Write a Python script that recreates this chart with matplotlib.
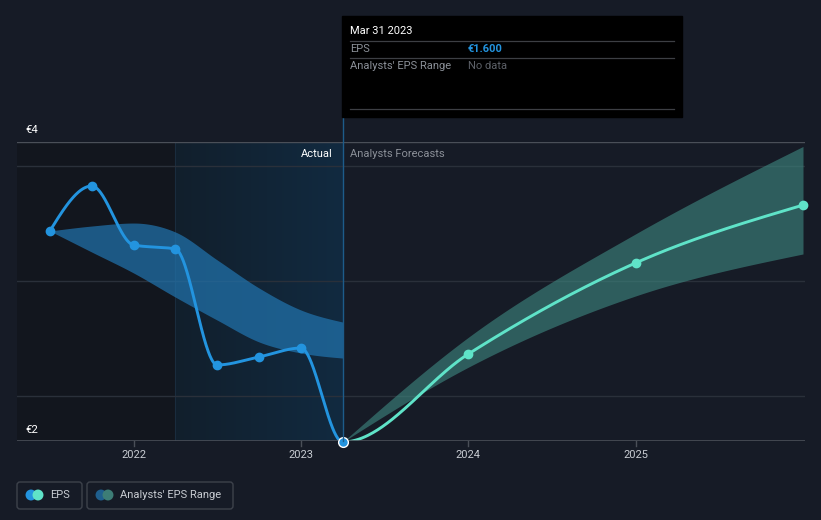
import numpy as np
import matplotlib
matplotlib.use("Agg")
import matplotlib.pyplot as plt
from matplotlib.patches import Rectangle, FancyBboxPatch

plt.rcParams['font.family'] = ['Roboto', 'DejaVu Sans']

# ---------------- data ----------------
eps_dates = [2021.5, 2021.75, 2022.0, 2022.25, 2022.5, 2022.75, 2023.0, 2023.25]
eps_values = [3.435, 3.826, 3.313, 3.278, 2.27, 2.34, 2.417, 1.600]

fc_dates = [2023.25, 2024.0, 2025.0, 2026.0]
fc_values = [1.600, 2.365, 3.157, 3.66]
fc_high = [1.600, 2.51, 3.41, 4.17]
fc_low = [1.600, 2.25, 2.87, 3.235]

hist_band_dates = [2021.5, 2021.75, 2022.0, 2022.25, 2022.5, 2022.75, 2023.0, 2023.25]
hist_band_high = [3.435, 3.478, 3.504, 3.426, 3.183, 2.939, 2.748, 2.643]
hist_band_low = [3.435, 3.252, 3.07, 2.86, 2.66, 2.47, 2.374, 2.33]

year_ticks = [2022, 2023, 2024, 2025]
y_grid = [2, 3, 4]
y_labels = ["€4", "€2"]

# ---------------- helpers ----------------
W, H = 821, 520
BG = '#161b26'


def monotone(x, y, n=60):
    x = np.asarray(x, float)
    y = np.asarray(y, float)
    h = np.diff(x)
    s = np.diff(y) / h
    m = len(x)
    t = np.zeros(m)
    for i in range(1, m - 1):
        p = (s[i - 1] * h[i] + s[i] * h[i - 1]) / (h[i - 1] + h[i])
        t[i] = (np.sign(s[i - 1]) + np.sign(s[i])) * min(abs(s[i - 1]), abs(s[i]), 0.5 * abs(p))
    if m > 2:
        t[0] = (3 * s[0] - t[1]) / 2
        t[-1] = (3 * s[-1] - t[-2]) / 2
    else:
        t[:] = s[0]
    xs, ys = [], []
    for i in range(m - 1):
        u = np.linspace(0, 1, n)
        h00 = 2 * u**3 - 3 * u**2 + 1
        h10 = u**3 - 2 * u**2 + u
        h01 = -2 * u**3 + 3 * u**2
        h11 = u**3 - u**2
        xs.append(x[i] + u * h[i])
        ys.append(h00 * y[i] + h10 * h[i] * t[i] + h01 * y[i + 1] + h11 * h[i] * t[i + 1])
    return np.concatenate(xs), np.concatenate(ys)


def fx(px):
    return px / W


def fy(py):
    return 1 - py / H


fig = plt.figure(figsize=(W / 100, H / 100), dpi=100, facecolor=BG)

# axes region in pixels
L, R, T, B = 17, 805, 142, 441
ax = fig.add_axes([fx(L), fy(B), (R - L) / W, (B - T) / H])
ax.set_facecolor(BG)
for sp in ax.spines.values():
    sp.set_visible(False)

px_per_year = 167.3
x0 = 2022 - (133.5 - L) / px_per_year
x1 = 2026 + (R - 803) / px_per_year
ax.set_xlim(x0, x1)
ylo = 2 - (B - 396) / 115.0
yhi = ylo + (B - T) / 115.0
ax.set_ylim(ylo, yhi)
ax.set_xticks([])
ax.set_yticks([])

# shaded regions
ax.axvspan(x0, 2022.25, color='#12161e', zorder=0, lw=0)
grad = np.linspace(0, 1, 256).reshape(1, -1)
c0 = np.array([18, 31, 44]) / 255
c1 = np.array([17, 42, 64]) / 255
img = c0[None, None, :] * (1 - grad[..., None]) + c1[None, None, :] * grad[..., None]
ax.imshow(img, extent=[2022.25, 2023.25, ylo, yhi], aspect='auto', zorder=0.5)
ax.axvline(2022.25, color='#1a2c3e', lw=0.8, zorder=0.6)

# gridlines
for g in y_grid:
    ax.axhline(g, color='#2a303a', lw=1.0, zorder=1)
ax.axhline(yhi - 0.004, color='#4a4f58', lw=1.0, zorder=1)
ax.axhline(ylo + 0.004, color='#4a4f58', lw=1.2, zorder=5)

# historical band
bx, bh = monotone(hist_band_dates, hist_band_high)
_, bl = monotone(hist_band_dates, hist_band_low)
ax.fill_between(bx, bl, bh, color='#2173ad', alpha=0.72, lw=0, zorder=2)

# forecast band
fxs, fh = monotone(fc_dates, fc_high)
_, fl = monotone(fc_dates, fc_low)
ax.fill_between(fxs, fl, fh, color='#3f8a82', alpha=0.6, lw=0, zorder=2)

# EPS line (combined tangents)
all_x = eps_dates + fc_dates[1:]
all_y = eps_values + fc_values[1:]
cx, cy = monotone(all_x, all_y, n=80)
nh = (len(eps_dates) - 1) * 80
ax.plot(cx[:nh], cy[:nh], color='#2394df', lw=2.1, zorder=4, solid_capstyle='round')
ax.plot(cx[nh:], cy[nh:], color='#5fe3c8', lw=2.1, zorder=4, solid_capstyle='round')
ax.plot(eps_dates[:-1], eps_values[:-1], 'o', color='#2394df', ms=6.0, zorder=5)
ax.plot(fc_dates[1:], fc_values[1:], 'o', color='#5fe3c8', ms=6.0, zorder=5, clip_on=False)
ax.plot([eps_dates[-1]], [eps_values[-1]], 'o', color='#2394df', mec='white', mew=1.0, ms=7.0,
        zorder=6, clip_on=False)

# vertical current-date line
fig.add_artist(plt.Line2D([fx(342.5), fx(342.5)], [fy(441), fy(117)], color='#1d5c8a', lw=1.0))

# tick marks & year labels
for yr in year_ticks:
    ax.plot([yr, yr], [ylo, ylo - 5 / 115.0], color='#4a4f58', lw=1.0, clip_on=False, zorder=5)
    ax.text(yr, ylo - 14 / 115.0, str(yr), color='#c8ccd2', fontsize=8, ha='center', va='center')

fig.text(fx(25), fy(130), y_labels[0], color='white', fontsize=8.2, va='center', ha='left')
fig.text(fx(25), fy(430), y_labels[1], color='white', fontsize=8.2, va='center', ha='left')

fig.text(fx(333), fy(154), "Actual", color='white', fontsize=8, va='center', ha='right')
fig.text(fx(350), fy(154), "Analysts Forecasts", color='#8b9098', fontsize=8, va='center', ha='left')

# tooltip
fig.add_artist(Rectangle((fx(342), fy(117)), (682 - 342) / W, (117 - 16) / H, color='black', zorder=10))
for ly in [41, 58, 109]:
    fig.add_artist(plt.Line2D([fx(350), fx(674)], [fy(ly), fy(ly)], color='#3d3f44', lw=0.9, zorder=11))
fig.text(fx(350), fy(31), "Mar 31 2023", color='white', fontsize=8, va='center', zorder=12)
fig.text(fx(350), fy(49.5), "EPS", color='#8b9098', fontsize=8, va='center', zorder=12)
fig.text(fx(468), fy(49.5), "€1.600", color='#2394df', fontsize=8, va='center', fontweight='bold', zorder=12)
fig.text(fx(350), fy(66), "Analysts' EPS Range", color='#8b9098', fontsize=8, va='center', zorder=12)
fig.text(fx(468), fy(66), "No data", color='#5d6168', fontsize=8, va='center', zorder=12)

# legend in a full-figure pixel axis
lax = fig.add_axes([0, 0, 1, 1], facecolor='none')
lax.set_xlim(0, W)
lax.set_ylim(H, 0)
lax.axis('off')
for (a, b, c1, c2, lab) in [(17, 82, '#2394df', '#5fe3c8', 'EPS'),
                            (87, 233, '#1f5f8e', '#3d7d76', "Analysts' EPS Range")]:
    lax.add_patch(FancyBboxPatch((a, 482), b - a, 27, boxstyle="round,pad=0,rounding_size=3",
                                 fc='none', ec='#3d424b', lw=1.0))
    lax.scatter([a + 14, a + 21], [495, 495], s=62, c=[c1, c2], zorder=5, lw=0)
    lax.text(a + 33, 495.5, lab, color='#c8ccd2', fontsize=8, va='center')

fig.savefig('out.png', dpi=100, facecolor=BG)
